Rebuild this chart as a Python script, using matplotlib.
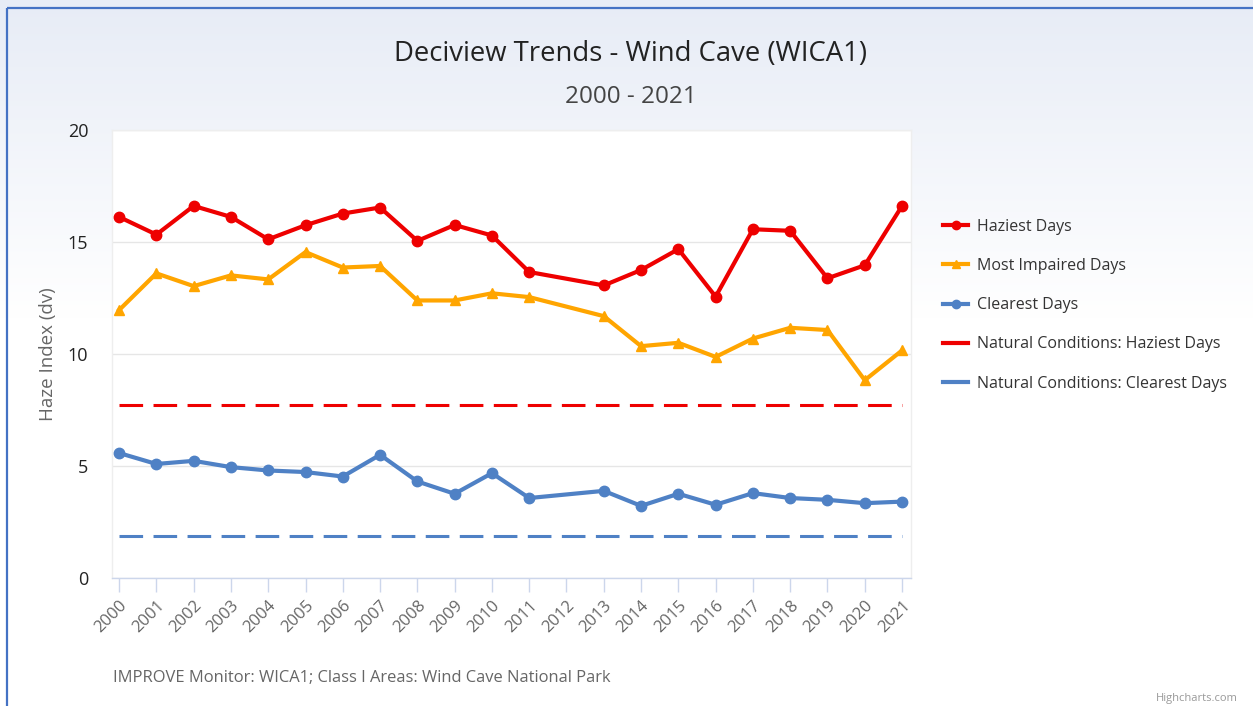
import numpy as np
import matplotlib
matplotlib.use("Agg")
import matplotlib.pyplot as plt

plt.rcParams['font.family'] = ['Open Sans', 'DejaVu Sans']
plt.rcParams['lines.scale_dashes'] = False

# data (2012 has no values)
years = [2000, 2001, 2002, 2003, 2004, 2005, 2006, 2007, 2008, 2009, 2010,
         2011, 2013, 2014, 2015, 2016, 2017, 2018, 2019, 2020, 2021]
haziest = [16.12, 15.33, 16.61, 16.12, 15.12, 15.75, 16.27, 16.54, 15.05, 15.76, 15.29,
           13.66, 13.06, 13.75, 14.68, 12.56, 15.57, 15.50, 13.38, 13.96, 16.61]
most_impaired = [11.96, 13.60, 13.03, 13.51, 13.33, 14.55, 13.86, 13.93, 12.39, 12.39, 12.71,
                 12.54, 11.69, 10.35, 10.50, 9.87, 10.69, 11.17, 11.07, 8.83, 10.16]
clearest = [5.58, 5.09, 5.23, 4.95, 4.80, 4.73, 4.53, 5.50, 4.31, 3.76, 4.68,
            3.57, 3.89, 3.22, 3.76, 3.27, 3.79, 3.57, 3.49, 3.34, 3.41]
nat_haziest = 7.71
nat_clearest = 1.89
tick_years = list(range(2000, 2022))

W, H = 1253, 706
fig = plt.figure(figsize=(W / 100, H / 100), dpi=100)

# background gradient + blue border
bg = fig.add_axes([0, 0, 1, 1], zorder=-10)
grad = np.ones((H, 1, 3))
top = np.array([231, 236, 246]) / 255.0
for i in range(H):
    t = min(i / (H * 0.45), 1.0)
    grad[i, 0] = top * (1 - t) + np.array([1.0, 1.0, 1.0]) * t
bg.imshow(grad, aspect='auto', extent=[0, W, H, 0])
bg.set_xlim(0, W)
bg.set_ylim(H, 0)
bg.plot([7, W], [7.5, 7.5], color='#4472c4', lw=1.6, solid_capstyle='butt')
bg.plot([7, 7], [7.5, H], color='#4472c4', lw=1.6, solid_capstyle='butt')
bg.axis('off')

ax = fig.add_axes([112 / W, 1 - 578 / H, (911 - 112) / W, (578 - 130) / H])
ax.set_facecolor('white')

ax.plot(years, haziest, color='#ee0000', lw=3, marker='o', ms=7.5, label='Haziest Days', zorder=5)
ax.plot(years, most_impaired, color='#ffa500', lw=3, marker='^', ms=7.5, label='Most Impaired Days', zorder=4)
ax.plot(years, clearest, color='#4f81c5', lw=3, marker='o', ms=7.5, label='Clearest Days', zorder=4)
ax.plot([tick_years[0], tick_years[-1]], [nat_haziest, nat_haziest], color='#ee0000', lw=2.2,
        dashes=(17, 7.5), label='Natural Conditions: Haziest Days', zorder=3)
ax.plot([tick_years[0], tick_years[-1]], [nat_clearest, nat_clearest], color='#4f81c5', lw=2.2,
        dashes=(17, 7.5), label='Natural Conditions: Clearest Days', zorder=3)

ax.set_xlim(1999.81, 2021.24)
ax.set_ylim(0, 20)
ax.set_yticks([0, 5, 10, 15, 20])
ax.grid(axis='y', color='#e6e6e6', lw=1)
ax.set_axisbelow(True)
ax.set_xticks(tick_years)
ax.set_xticklabels([str(y) for y in tick_years], rotation=45, ha='right',
                   rotation_mode='anchor', fontsize=12, color='#666666')
ax.tick_params(axis='x', length=10, width=1, color='#ccd6eb', pad=4)
ax.tick_params(axis='y', length=0, pad=17, labelsize=13, labelcolor='#222222')
for s in ['top', 'left', 'right']:
    ax.spines[s].set_color('#eeeeee')
    ax.spines[s].set_linewidth(1)
ax.spines['bottom'].set_color('#ccd6eb')
ax.spines['bottom'].set_linewidth(1)
ax.set_ylabel('Haze Index (dv)', fontsize=13.5, color='#666666', labelpad=8)

leg = fig.legend(loc='upper left', bbox_to_anchor=(929 / W, 1 - 204.5 / H), frameon=False,
                 fontsize=11.5, labelspacing=1.45, handlelength=1.55, handletextpad=0.55,
                 labelcolor='#333333')
for ln in leg.get_lines():
    ln.set_markersize(6)
    ln.set_linewidth(3)
leg.get_lines()[3].set_linestyle('-')
leg.get_lines()[4].set_linestyle('-')

fig.text(631 / W, 1 - 54 / H, 'Deciview Trends - Wind Cave (WICA1)', fontsize=19.8,
         color='#222222', ha='center', va='center')
fig.text(631 / W, 1 - 97 / H, '2000 - 2021', fontsize=17.5, color='#444444',
         ha='center', va='center')
fig.text(113 / W, 1 - 678 / H, 'IMPROVE Monitor: WICA1; Class I Areas: Wind Cave National Park',
         fontsize=11.9, color='#666666', ha='left', va='center')
fig.text(1238 / W, 1 - 699 / H, 'Highcharts.com', fontsize=8, color='#999999',
         ha='right', va='center')

fig.savefig('out.png', dpi=100)
